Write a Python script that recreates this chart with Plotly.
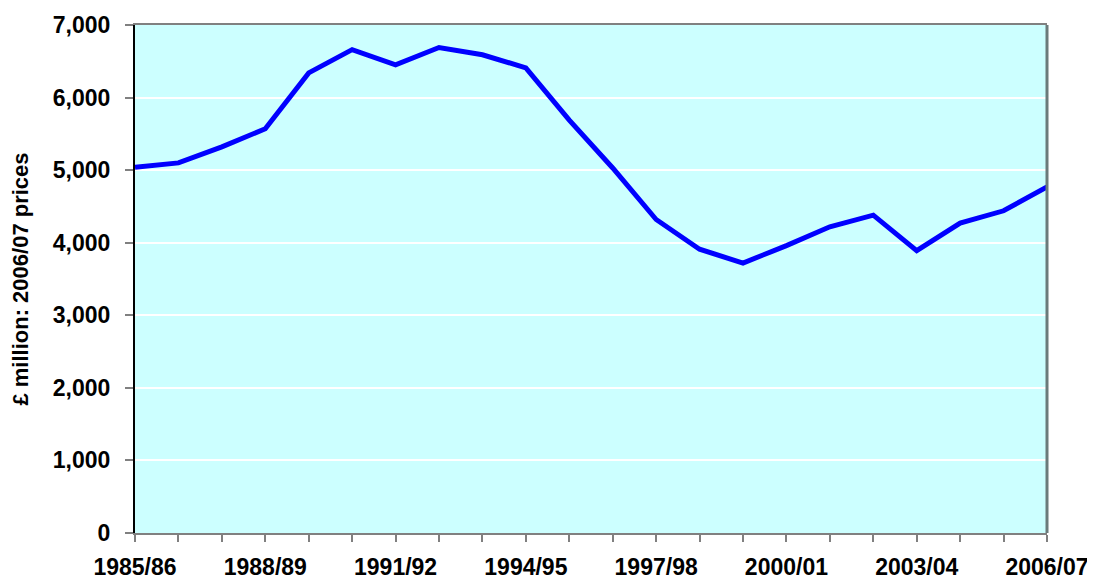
import plotly.graph_objs as go

# financial years shown on the x axis
years = ["1985/86", "1986/87", "1987/88", "1988/89", "1989/90", "1990/91",
         "1991/92", "1992/93", "1993/94", "1994/95", "1995/96", "1996/97",
         "1997/98", "1998/99", "1999/00", "2000/01", "2001/02", "2002/03",
         "2003/04", "2004/05", "2005/06", "2006/07"]

# spending, £ million at 2006/07 prices
spend = [5040, 5100, 5320, 5570, 6340, 6660, 6450, 6690, 6590, 6410,
         5690, 5030, 4320, 3910, 3720, 3960, 4220, 4380, 3890, 4270,
         4440, 4770]

# only every third year gets a label
year_labels = [y if i % 3 == 0 else "" for i, y in enumerate(years)]

y_ticks = [0, 1000, 2000, 3000, 4000, 5000, 6000, 7000]

font_family = "Arial, Liberation Sans, sans-serif"

line = go.Scatter(x=years, y=spend, mode="lines",
                  line=dict(color="#0000FF", width=5),
                  hoverinfo="x+y")

# page body adds an 8px margin, so the figure is 8px smaller each way
layout = dict(
    width=1087, height=573,
    margin=dict(l=127, r=48, t=17, b=48),
    paper_bgcolor="white",
    plot_bgcolor="#CCFFFF",
    showlegend=False,
    font=dict(family=font_family, color="black"),
    xaxis=dict(type="category", range=[0, len(years) - 1], automargin=False,
               tickmode="array", tickvals=years, ticktext=year_labels,
               ticks="outside", ticklen=7, tickcolor="#808080", tickwidth=2,
               tickangle=0,
               showline=True, linecolor="#808080", linewidth=2, mirror=True,
               showgrid=False, zeroline=False,
               tickfont=dict(size=23, weight="bold", family=font_family),
               ticklabelstandoff=5),
    yaxis=dict(range=[0, 7000], tickmode="array", tickvals=y_ticks,
               tickformat=",d", automargin=False,
               ticks="outside", ticklen=8, tickcolor="#808080", tickwidth=2,
               showline=True, linecolor="black", linewidth=2,
               showgrid=True, gridcolor="white", gridwidth=1.5,
               zeroline=False,
               tickfont=dict(size=23, weight="bold", family=font_family),
               ticklabelstandoff=10,
               title=dict(text="£ million: 2006/07 prices", standoff=20,
                          font=dict(size=22, weight="bold", family=font_family))),
    shapes=[dict(type="line", xref="paper", yref="paper", x0=1, x1=1, y0=0, y1=1,
                 line=dict(color="#6B7B7B", width=3))],
)

fig = go.Figure(data=[line], layout=layout)
fig.write_html("out.html")
